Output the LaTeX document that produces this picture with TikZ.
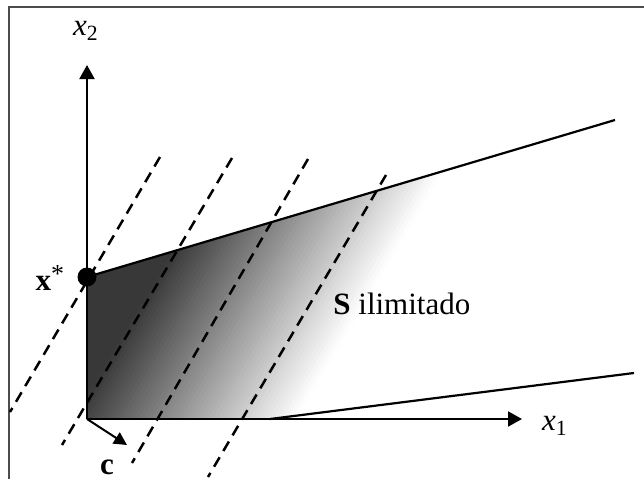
\documentclass[tikz,border=0pt]{standalone}
\usepackage{fontspec}
\setmainfont{Liberation Serif}
\usepackage{tikz}
\usetikzlibrary{arrows.meta,calc}
\tikzset{
  >=Stealth,
}

\begin{document}
\begin{tikzpicture}[
  x=0.5pt, y=0.5pt,
  frame/.style={draw=black!70, line width=0.9pt},
  axis/.style={line width=1pt, -{Triangle[length=7pt, width=7.5pt]}},
  bound/.style={line width=1.1pt},
  level/.style={line width=1.25pt, dash pattern=on 5.5pt off 3.6pt},
  cvec/.style={line width=1pt, -{Triangle[length=6.5pt, width=6.5pt]}},
  lbl/.style={font=\fontsize{15.5}{18}\selectfont, inner sep=0pt}
]
  \useasboundingbox (0,0) rectangle (644,479);
  \draw[frame] (9,0) -- (9,472) -- (644,472);

  % points of the figure
  \coordinate (O) at (87,60);
  \coordinate (xs) at (87,202);
  \coordinate (U) at (615,359);
  \coordinate (L0) at (270,60);
  \coordinate (L1) at (634,106);
  \coordinate (x1tip) at (522,60);
  \coordinate (x2tip) at (87,414);
  \coordinate (ctip) at (127,34);

  % shaded set, fading along c
  \begin{scope}
    \clip (O) -- (xs) -- (U) |- (O) -- cycle;
    \begin{scope}[rotate=-30.7]
      \foreach \k in {-60,-56,...,228} {
        \pgfmathsetmacro\shadeval{max(0,min(78,(222-\k)/192*78))}
        \fill[black!\shadeval] (\k,-800) rectangle ++(4.6,1600);
      }
    \end{scope}
  \end{scope}

  % level lines of the objective
  \coordinate (a1) at (160,322); \coordinate (a2) at (10,67);
  \coordinate (b1) at (232,321); \coordinate (b2) at (62,34);
  \coordinate (c1) at (308,320); \coordinate (c2) at (132,16);
  \coordinate (d1) at (386,304); \coordinate (d2) at (208,2);
  \foreach \l in {a,b,c,d}
    \draw[level] (\l1) -- (\l2);

  % boundaries of S
  \draw[bound] (xs) -- (U);
  \draw[bound] (L0) -- (L1);

  % axes
  \draw[axis] (O) -- (x1tip);
  \draw[axis] (O) -- (x2tip);
  \node[lbl] (lx1) at (555,53) {\textit{x}\textsubscript{1}};
  \node[lbl] (lx2) at (86,448) {\textit{x}\textsubscript{2}};

  % optimum and cost vector
  \node[circle, fill, minimum size=9.5pt, inner sep=0pt] (dot) at (xs) {};
  \node[lbl] (lxs) at (50,201) {\textbf{x}\raisebox{0.28em}{\fontsize{13}{13}\selectfont *}};
  \draw[cvec] (O) -- (ctip);
  \node[lbl] (lc) at (107,12) {\textbf{c}};

  \node[lbl, anchor=base west] (lS) at (333,165) {\textbf{S} ilimitado};
\end{tikzpicture}
\end{document}
